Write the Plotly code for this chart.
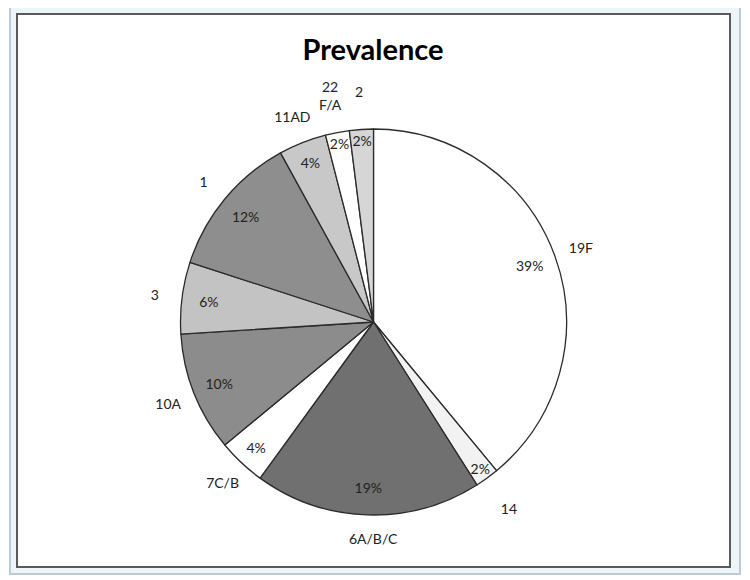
import plotly.graph_objects as go

categories = ["19F", "14", "6A/B/C", "7C/B", "10A", "3", "1", "11AD", "22<br>F/A", "2"]
values = [39, 2, 19, 4, 10, 6, 12, 4, 2, 2]
colors = ["#ffffff", "#f2f2f2", "#707070", "#ffffff", "#8c8c8c",
          "#c3c3c3", "#8e8e8e", "#c8c8c8", "#ffffff", "#d6d6d6"]
title_text = "Prevalence"

OFF = 8  # page body margin
W, H = 750 - OFF, 580 - OFF
cx, cy = 373.5 - OFF, 322.0 - OFF
R = 193.0


def px(x):
    return (x - OFF) / W


def py(y):
    return 1 - (y - OFF) / H


def dom(r):
    return dict(x=[(cx - r) / W, (cx + r) / W], y=[1 - (cy + r) / H, 1 - (cy - r) / H])


fig = go.Figure()

# colored pie
fig.add_trace(go.Pie(
    labels=categories, values=values, sort=False, direction="clockwise", rotation=0,
    marker=dict(colors=colors, line=dict(color="#2b2b2b", width=1.3)),
    textinfo="none", hoverinfo="skip", domain=dom(R), showlegend=False,
))

# percentage ring (transparent)
fig.add_trace(go.Pie(
    labels=categories, values=values, sort=False, direction="clockwise", rotation=0,
    hole=0.72,
    marker=dict(colors=["rgba(0,0,0,0)"] * len(values), line=dict(width=0)),
    texttemplate="%{percent:.0%}", textposition="inside", insidetextorientation="horizontal",
    textfont=dict(family="Lato", size=14, color="#222222"),
    hoverinfo="skip", domain=dom(R), showlegend=False,
))

# category label ring (transparent)
fig.add_trace(go.Pie(
    labels=categories, values=values, sort=False, direction="clockwise", rotation=0,
    hole=0.8,
    marker=dict(colors=["rgba(0,0,0,0)"] * len(values), line=dict(width=0)),
    texttemplate="%{label}", textposition="inside", insidetextorientation="horizontal",
    textfont=dict(family="Lato", size=14, color="#222222"),
    hoverinfo="skip", domain=dom(245), showlegend=False,
))

fig.update_layout(
    width=W, height=H,
    margin=dict(l=0, r=0, t=0, b=0),
    paper_bgcolor="white", plot_bgcolor="white",
    uniformtext=dict(minsize=14, mode="show"),
    title=dict(text="<b>" + title_text + "</b>", x=px(373), xanchor="center",
               y=py(50), yanchor="middle",
               font=dict(family="Lato", size=29, color="#000000")),
    shapes=[
        dict(type="rect", xref="paper", yref="paper",
             x0=px(10), x1=px(740), y0=py(574), y1=py(7),
             line=dict(color="#b8ccd6", width=2), fillcolor="#eef5f8", layer="below"),
        dict(type="rect", xref="paper", yref="paper",
             x0=px(17), x1=px(730), y0=py(567), y1=py(14),
             line=dict(color="#5a5a5a", width=2), fillcolor="white", layer="below"),
    ],
)

fig.write_html("out.html")
